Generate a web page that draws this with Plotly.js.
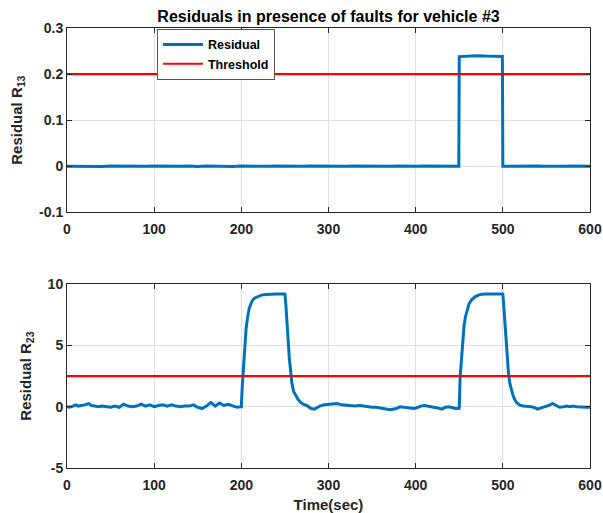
<!DOCTYPE html>
<html>
<head>
<meta charset="utf-8">
<script src="https://cdn.plot.ly/plotly-3.0.1.min.js"></script>
<style>html,body{margin:0;padding:0;background:#fff;}#chart{width:603px;height:513px;}</style>
</head>
<body>
<div id="chart"></div>
<script>
// ---- Data ----
var r13Time = [0,10,20,30,40,50,60,70,80,90,100,110,120,130,140,150,160,170,180,190,200,210,220,230,240,250,260,270,280,290,300,310,320,330,340,350,360,370,380,390,400,410,420,430,440,449.5,450,460,470,480,490,499.5,500,510,520,530,540,550,560,570,580,590,600];
var r13Value = [0,-0.0005,0.0005,0,-0.0005,0.0005,0,0.0005,-0.0005,0,0.0005,0,0.001,0,0.0005,-0.0005,0.0005,0,0.0005,-0.0005,0.0005,0,-0.0005,0,0.0005,0,-0.0005,0,0.0005,0,0,-0.0005,0,0.0005,0,-0.0005,0,0,0.0005,-0.0005,0,0.0005,0,-0.0005,0,0,0.238,0.239,0.240,0.239,0.239,0.238,0,0.0005,-0.0005,0,0.0005,0,-0.0005,0,0.0005,0,0];

var r23Time = [0,3,7,10,13,16,20,25,28,32,36,40,45,50,55,60,65,70,75,80,85,90,95,100,105,110,115,120,125,130,135,140,145,150,155,160,165,170,175,180,185,190,195,199,200,201,202,203,204,205.5,207,209,211,213,215,219,223,228,234,240,245,250,251,252,253,254,255,256,257,258,260,262,265,268,271,275,280,284,287,290,295,300,305,310,315,320,325,330,336,340,344,350,355,360,363,367,370,374,378,382,387,393,398,401,406,410,415,419,425,430,434,438,442,446,449.5,450,451,452,453,454,455.5,457,459,461,464,468,472,476,482,490,500,501,502,503,504,505,506.5,508,510,512,515,519,523,528,533,537,540,544,549,553,557,561,565,570,573,577,580,585,590,596,600];
var r23Value = [0,-0.05,0.05,0.15,0.05,0.12,0.15,0.25,0.1,0.05,0,0.05,0,-0.05,0.05,-0.05,0.2,0.05,0,0.05,0.2,0.05,0.15,0,0.1,0.15,0.05,0.15,0.05,0,0.05,0.05,0.15,-0.05,-0.15,0.05,0.35,0.05,0.3,0.1,0.2,0.1,-0.05,0,0,1.6,2.9,4.1,5.0,6.4,7.2,8.0,8.4,8.7,8.85,9.0,9.1,9.15,9.2,9.2,9.2,9.2,8.4,7.1,6.0,4.9,4.0,3.3,2.6,1.9,1.25,0.95,0.6,0.35,0.2,0.1,-0.15,-0.2,-0.05,0.05,0.15,0.2,0.2,0.25,0.15,0.1,0.1,0.05,0.1,0.05,0,-0.05,-0.05,-0.1,-0.15,-0.2,-0.25,-0.2,-0.15,0,-0.05,-0.1,-0.15,-0.1,0.05,0.1,0.05,0,-0.1,-0.2,-0.05,0,-0.1,-0.15,-0.15,-0.1,2.4,3.5,4.6,5.6,6.6,7.3,7.9,8.35,8.7,8.96,9.1,9.18,9.2,9.2,9.2,8.3,7.1,6.0,4.9,3.9,2.7,1.9,1.3,0.85,0.4,0.15,0.05,0.05,0,-0.1,-0.2,-0.1,0,0.1,0.27,0.1,-0.05,0,0.05,0,0.05,0,-0.05,-0.05,-0.05];

var thresholdTime = [0,600];
var threshold13 = [0.2,0.2];
var threshold23 = [2.5,2.5];

var xTickVals = [0,100,200,300,400,500,600];
var xTickText = ['0','100','200','300','400','500','600'];
var y1TickVals = [-0.1,0,0.1,0.2,0.3];
var y1TickText = ['-0.1','0','0.1','0.2','0.3'];
var y2TickVals = [-5,0,5,10];
var y2TickText = ['-5','0','5','10'];

var blue = '#0072BD', red = '#FF0000';
var fam = 'Liberation Sans, Arial, sans-serif';

var traces = [
  {x:r13Time, y:r13Value, type:'scatter', mode:'lines', name:'Residual', line:{color:blue, width:3}, xaxis:'x', yaxis:'y', showlegend:true},
  {x:thresholdTime, y:threshold13, type:'scatter', mode:'lines', name:'Threshold', line:{color:red, width:2.2}, xaxis:'x', yaxis:'y', showlegend:true},
  {x:r23Time, y:r23Value, type:'scatter', mode:'lines', name:'Residual', line:{color:blue, width:3}, xaxis:'x2', yaxis:'y2', showlegend:false},
  {x:thresholdTime, y:threshold23, type:'scatter', mode:'lines', name:'Threshold', line:{color:red, width:2.2}, xaxis:'x2', yaxis:'y2', showlegend:false}
];

function axisBase(extra){
  var a = {
    showline:true, linecolor:'#262626', linewidth:1, mirror:'ticks',
    ticks:'inside', ticklen:5, tickcolor:'#262626', tickwidth:1,
    showgrid:true, gridcolor:'#e0e0e0', gridwidth:1, zeroline:false,
    tickfont:{family:fam, size:14, color:'#262626', weight:'bold'},
    tickmode:'array', fixedrange:true
  };
  for (var k in extra) a[k] = extra[k];
  return a;
}

var titleFont = {family:fam, size:15, color:'#262626', weight:'bold'};

var layout = {
  width:603, height:513,
  margin:{l:67, r:13, t:28, b:45},
  paper_bgcolor:'#ffffff', plot_bgcolor:'#ffffff',
  font:{family:fam, size:13, color:'#262626', weight:'bold'},
  title:{text:'Residuals in presence of faults for vehicle #3', font:{family:fam, size:16, color:'#000', weight:'bold'}, x:0.5, xref:'paper', y:1-16/513, yref:'container', yanchor:'middle'},
  xaxis: axisBase({domain:[0,1], range:[0,600], tickvals:xTickVals, ticktext:xTickText, anchor:'y', ticklabelstandoff:4}),
  yaxis: axisBase({domain:[0.581,1], range:[-0.1,0.3], tickvals:y1TickVals, ticktext:y1TickText, anchor:'x',
    title:{text:'Residual R<sub>13</sub>', font:titleFont, standoff:12}}),
  xaxis2: axisBase({domain:[0,1], range:[0,600], tickvals:xTickVals, ticktext:xTickText, anchor:'y2', ticklabelstandoff:4,
    title:{text:'Time(sec)', font:titleFont, standoff:8}}),
  yaxis2: axisBase({domain:[0,0.418], range:[-5,10], tickvals:y2TickVals, ticktext:y2TickText, anchor:'x2',
    title:{text:'Residual R<sub>23</sub>', font:titleFont, standoff:12}}),
  showlegend:true,
  legend:{x:0.172, xanchor:'left', y:0.998, yanchor:'top', bgcolor:'#ffffff', bordercolor:'#555555', borderwidth:1,
    font:{family:fam, size:12.5, color:'#000', weight:'bold'}, tracegroupgap:0, itemwidth:40}
};

Plotly.newPlot('chart', traces, layout, {displayModeBar:false, staticPlot:true});
</script>
</body>
</html>
